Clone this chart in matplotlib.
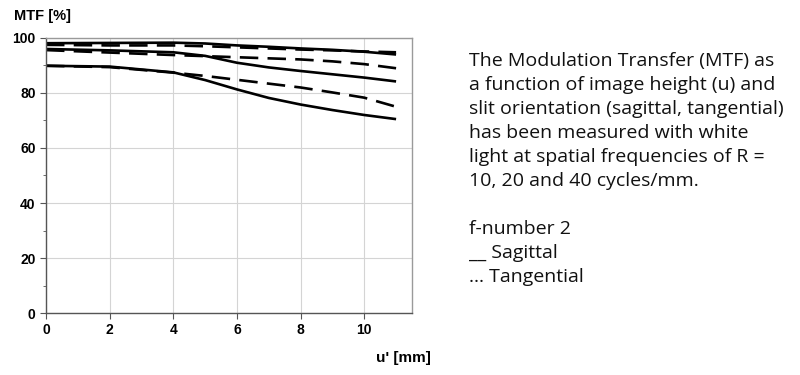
import matplotlib.pyplot as plt

# image height u' [mm]
u = [0, 2, 4, 5, 6, 7, 8, 9, 10, 11]

# MTF [%] at R = 10, 20, 40 cycles/mm
sag_10 = [98.1, 98.2, 98.3, 98.0, 97.3, 96.8, 96.2, 95.7, 95.0, 94.0]
tan_10 = [97.5, 97.3, 97.3, 97.0, 96.6, 96.2, 95.8, 95.5, 95.1, 94.8]
sag_20 = [96.0, 95.5, 94.8, 93.5, 91.0, 89.3, 88.0, 86.8, 85.6, 84.2]
tan_20 = [95.6, 94.7, 93.8, 93.4, 93.0, 92.6, 92.2, 91.5, 90.5, 89.0]
sag_40 = [89.9, 89.6, 87.5, 84.7, 81.3, 78.2, 75.8, 73.8, 72.0, 70.5]
tan_40 = [89.9, 89.4, 87.4, 86.2, 84.8, 83.4, 82.0, 80.2, 78.3, 75.0]

x_ticks = [0, 2, 4, 6, 8, 10]
y_ticks = [0, 20, 40, 60, 80, 100]

desc = ("The Modulation Transfer (MTF) as\n"
        "a function of image height (u) and\n"
        "slit orientation (sagittal, tangential)\n"
        "has been measured with white\n"
        "light at spatial frequencies of R =\n"
        "10, 20 and 40 cycles/mm.\n"
        "\n"
        "f-number 2\n"
        "__ Sagittal\n"
        "\u2026 Tangential")

fig = plt.figure(figsize=(8, 3.75), dpi=100)
ax = fig.add_axes([0.0575, 0.1653, 0.4575, 0.7334])

for s in (sag_10, sag_20, sag_40):
    ax.plot(u, s, color="black", linewidth=1.9, solid_capstyle="butt")
for t in (tan_10, tan_20, tan_40):
    ax.plot(u, t, color="black", linewidth=1.9, linestyle=(0, (7, 3.5)),
            dash_capstyle="butt")

ax.set_xlim(0, 11.5)
ax.set_ylim(0, 100)
ax.set_xticks(x_ticks)
ax.set_yticks(y_ticks)
ax.set_yticks([10, 30, 50, 70, 90], minor=True)
ax.grid(True, which="major", color="#d4d4d4", linewidth=0.8)
ax.set_axisbelow(True)
for side in ("top", "right"):
    ax.spines[side].set_color("#9a9a9a")
for side in ("left", "bottom"):
    ax.spines[side].set_color("#555555")
for sp in ax.spines.values():
    sp.set_linewidth(1.0)
ax.tick_params(axis="both", which="major", length=4, color="#555555",
               labelsize=10)
ax.tick_params(axis="y", which="minor", length=2, color="#555555")
for lbl in ax.get_xticklabels() + ax.get_yticklabels():
    lbl.set_fontfamily("Liberation Sans")
    lbl.set_fontweight("bold")

fig.text(0.018, 0.957, "MTF [%]", fontsize=10.5, fontweight="bold",
         family="Liberation Sans", va="center", ha="left")
fig.text(0.538, 0.046, "u' [mm]", fontsize=11, fontweight="bold",
         family="Liberation Sans", va="center", ha="right")

fig.text(0.586, 0.862, desc, fontsize=14, family="Open Sans",
         va="top", ha="left", linespacing=1.43, color="#111111")

fig.savefig("out.png", dpi=100)
